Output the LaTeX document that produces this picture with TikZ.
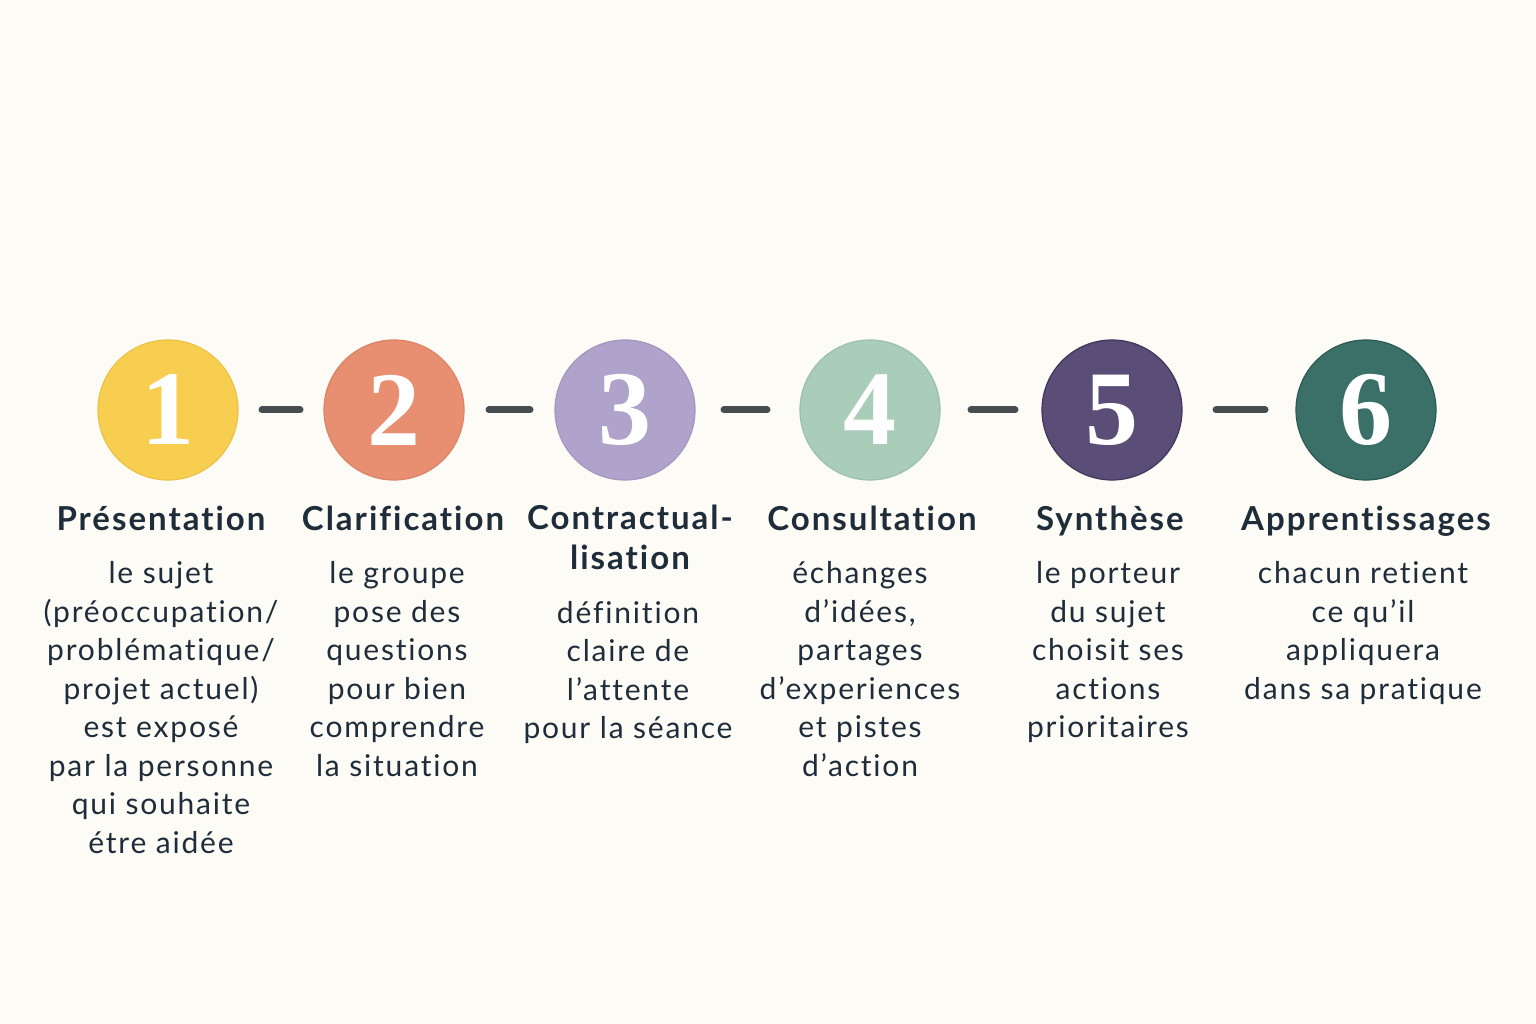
\documentclass[tikz,border=0pt]{standalone}
\usepackage{fontspec}
\setmainfont{Lato}[LetterSpace=6, Ligatures=NoCommon]
\newfontfamily\digitfont{Liberation Serif}
\usetikzlibrary{positioning}
\definecolor{paper}{HTML}{FDFBF6}
\definecolor{ink}{HTML}{1F2D3A}
\definecolor{dashgray}{HTML}{474C51}
\definecolor{sun}{HTML}{F7CE4F}
\definecolor{sunline}{HTML}{EBC246}
\definecolor{coral}{HTML}{E88F72}
\definecolor{coralline}{HTML}{DA8468}
\definecolor{lilac}{HTML}{B0A3CB}
\definecolor{lilacline}{HTML}{A396BF}
\definecolor{mint}{HTML}{A9CDB8}
\definecolor{mintline}{HTML}{9CC1AB}
\definecolor{plum}{HTML}{5A4E78}
\definecolor{plumline}{HTML}{3F3658}
\definecolor{teal}{HTML}{3A7068}
\definecolor{tealline}{HTML}{2C5A53}
\tikzset{
  stepdot/.style   = {circle, minimum size=140pt, inner sep=0pt, outer sep=0pt,
                      line width=1.2pt, text=white,
                      font=\digitfont\bfseries\fontsize{106}{106}\selectfont},
  steptitle/.style = {align=center, inner sep=0pt, text=ink,
                      font=\bfseries\fontsize{33}{40}\selectfont,
                      execute at begin node=\strut, execute at end node=\strut},
  stepbody/.style  = {align=center, inner sep=0pt, text=ink,
                      font=\fontsize{30}{38.5}\selectfont,
                      execute at begin node=\strut, execute at end node=\strut},
  link/.style      = {draw=dashgray, line width=7pt, line cap=round}
}
\begin{document}
\begin{tikzpicture}[x=1pt, y=1pt]
  \fill[paper] (0,0) rectangle (1536,1024);
  \useasboundingbox (0,0) rectangle (1536,1024);

  % steps
  \node[stepdot, fill=sun,   draw=sunline]   (c1) at (168,614)  {1};
  \node[stepdot, fill=coral, draw=coralline] (c2) at (394,614)  {2};
  \node[stepdot, fill=lilac, draw=lilacline] (c3) at (625,614)  {3};
  \node[stepdot, fill=mint,  draw=mintline]  (c4) at (870,614)  {4};
  \node[stepdot, fill=plum,  draw=plumline]  (c5) at (1112,614) {5};
  \node[stepdot, fill=teal,  draw=tealline]  (c6) at (1366,614) {6};

  \draw[link, shorten <=24pt, shorten >=24pt] (c1) -- (c2);
  \draw[link, shorten <=25pt, shorten >=25pt] (c2) -- (c3);
  \draw[link, shorten <=29pt, shorten >=33pt] (c3) -- (c4);
  \draw[link, shorten <=31pt, shorten >=27pt] (c4) -- (c5);
  \draw[link, shorten <=34pt, shorten >=31pt] (c5) -- (c6);

  % titles
  \node[steptitle, below=22pt of c1, xshift=-7pt] (t1) {Présentation};
  \node[steptitle, below=22pt of c2, xshift=9pt]  (t2) {Clarification};
  \node[steptitle, below=25pt of c3, xshift=5pt]  (t3) {Contractual-\\lisation};
  \node[steptitle, below=22pt of c4, xshift=2pt]  (t4) {Consultation};
  \node[steptitle, below=22pt of c5, xshift=-2pt] (t5) {Synthèse};
  \node[steptitle, below=22pt of c6]              (t6) {Apprentissages};

  % descriptions
  \node[stepbody, below=19pt of t1] (b1)
    {le sujet\\(préoccupation/\\problématique/\\projet actuel)\\est exposé\\par la personne\\qui souhaite\\étre aidée};
  \node[stepbody, below=19pt of t2, xshift=-6pt] (b2)
    {le groupe\\pose des\\questions\\pour bien\\comprendre\\la situation};
  \node[stepbody, below=19pt of t3, xshift=-2pt] (b3)
    {définition\\claire de\\l’attente\\pour la séance};
  \node[stepbody, below=19pt of t4, xshift=-12pt] (b4)
    {échanges\\d’idées,\\partages\\d’experiences\\et pistes\\d’action};
  \node[stepbody, below=19pt of t5, xshift=-2pt] (b5)
    {le porteur\\du sujet\\choisit ses\\actions\\prioritaires};
  \node[stepbody, below=19pt of t6, xshift=-3pt] (b6)
    {chacun retient\\ce qu’il\\appliquera\\dans sa pratique};
\end{tikzpicture}
\end{document}
